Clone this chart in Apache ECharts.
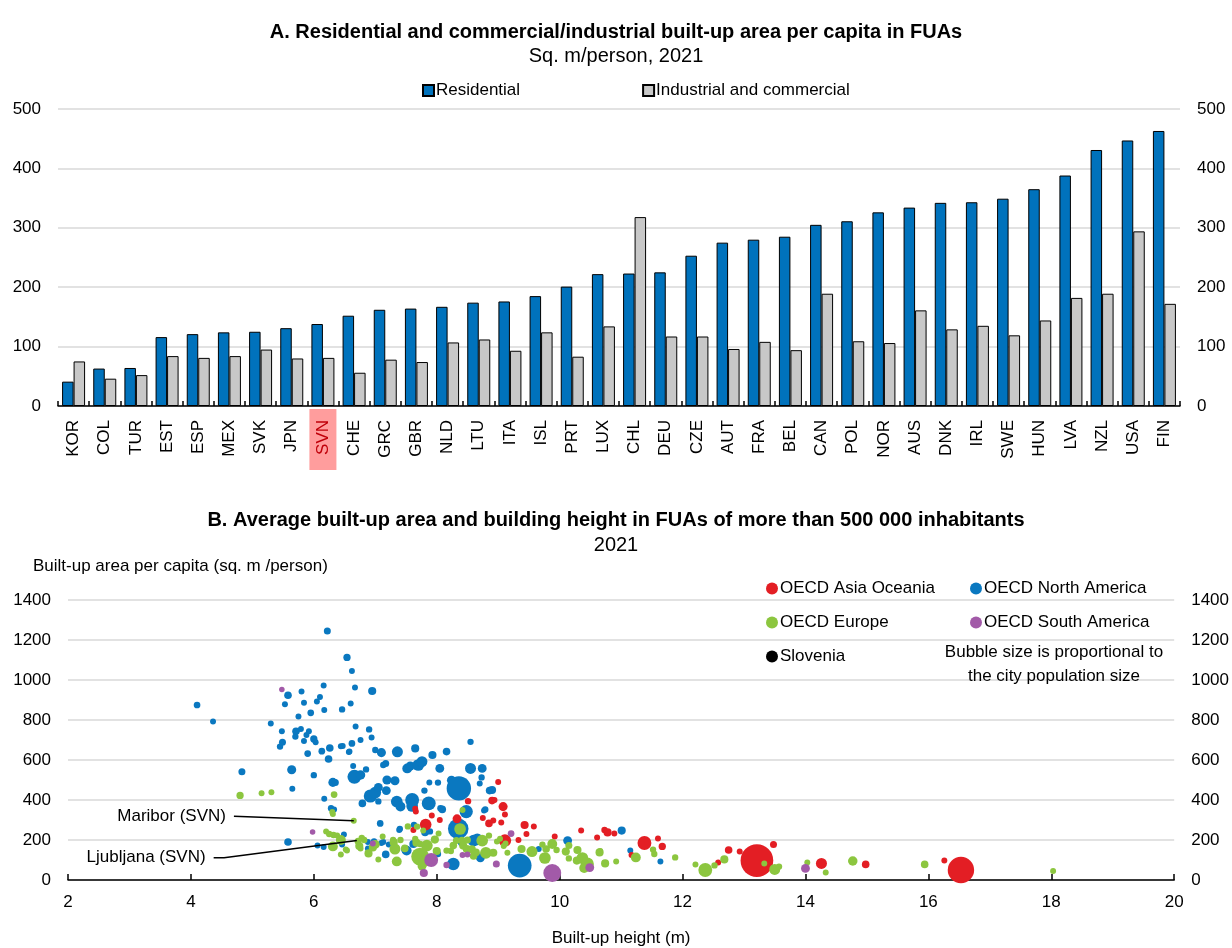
<!DOCTYPE html>
<html><head><meta charset="utf-8">
<script src="https://cdn.jsdelivr.net/npm/echarts@6/dist/echarts.min.js"></script>
<style>html,body{margin:0;padding:0;background:#fff}#c{width:1232px;height:948px}</style>
</head><body><div id="c"></div>
<script>
// ---- Panel A data ----
const categories = ['KOR','COL','TUR','EST','ESP','MEX','SVK','JPN','SVN','CHE','GRC','GBR','NLD','LTU','ITA','ISL','PRT','LUX','CHL','DEU','CZE','AUT','FRA','BEL','CAN','POL','NOR','AUS','DNK','IRL','SWE','HUN','LVA','NZL','USA','FIN'];
const residential = [41,63,64,116,121,124,125,131,138,152,162,164,167,174,176,185,201,222,223,225,253,275,280,285,305,311,326,334,342,343,349,365,388,431,447,463];
const industrial = [75,46,52,84,81,84,95,80,81,56,78,74,107,112,93,124,83,134,318,117,117,96,108,94,189,109,106,161,129,135,119,144,182,189,294,172];

// ---- Panel B data: [height (m), built-up area per capita, population size (millions, approx)] ----
const northAmerica = [
[4.1,875,0.7],[4.36,792,0.5],[4.83,541,0.8],[5.3,783,0.5],[5.45,667,0.6],[5.48,744,0.5],[5.49,689,0.8],
[5.53,879,0.5],[5.58,924,1.0],[5.58,190,1.0],[5.64,551,1.6],[5.65,456,0.5],[5.70,717,0.6],[5.71,744,1.0],
[5.75,818,0.5],[5.80,943,0.5],[5.79,755,0.5],[5.84,886,0.5],[5.84,695,0.5],[5.90,632,0.7],[5.88,725,0.5],
[5.92,744,0.5],[5.95,836,0.7],[6.0,524,0.6],[6.0,705,0.9],[6.03,689,0.5],[6.05,892,0.5],[6.06,173,0.5],
[6.10,915,0.5],[6.13,644,0.7],[6.16,972,0.5],[6.16,165,0.5],[6.17,850,0.5],[6.17,406,0.5],[6.22,1245,0.8],
[6.24,605,1.0],[6.26,660,1.0],[6.28,359,0.6],[6.31,488,1.6],[6.33,353,0.5],[6.35,487,0.8],[6.44,669,0.5],
[6.46,853,0.6],[6.47,670,0.5],[6.46,178,0.5],[6.49,227,0.5],[6.54,1113,0.9],[6.58,642,0.5],[6.62,683,0.7],
[6.57,640,0.5],[6.62,1045,0.5],[6.6,883,0.5],[6.67,962,0.5],[6.68,767,0.5],[6.64,570,0.5],[6.66,516,4.5],
[6.76,700,0.5],[6.76,525,1.8],[6.79,383,1.0],[6.85,553,0.6],[6.9,753,0.6],[6.88,190,0.5],[6.88,158,0.5],
[6.92,420,4],[6.94,712,0.5],[6.95,945,1.2],[7.0,437,3],[6.98,193,0.6],[7.0,650,0.6],[7.05,463,1.5],
[7.05,393,0.6],[7.18,447,1.5],[7.1,637,1.6],[7.08,283,0.7],[7.10,185,0.5],[7.13,190,0.5],[7.19,500,1.6],
[7.17,583,0.8],[7.13,575,0.6],[7.17,128,1.0],[7.22,177,0.5],[7.32,496,1.6],[7.36,641,2.6],[7.35,392,3],
[7.39,250,0.5],[7.40,256,0.6],[7.41,367,2],[7.52,558,2],[7.57,570,1.6],[7.49,153,1.2],[7.51,147,2],
[7.6,400,4.5],[7.6,370,3],[7.62,180,1.2],[7.65,658,1.2],[7.63,276,0.6],[7.70,575,3],[7.76,592,2.5],
[7.8,447,0.6],[7.81,238,1.0],[7.87,383,4.5],[7.88,487,0.5],[7.89,243,0.6],[7.93,625,1.2],[8.02,487,0.6],
[8.02,130,0.6],[8.05,558,1.5],[8.06,359,0.6],[8.09,353,1.0],[8.16,642,1.0],[8.24,499,1.6],[8.27,80,3.5],
[8.36,458,16],[8.35,256,11],[8.41,190,1.5],[8.48,342,4],[8.55,691,0.6],[8.55,558,2.6],[8.60,197,3],
[8.66,203,3],[8.73,513,0.6],[8.71,111,1.5],[8.74,558,1.5],[8.77,347,0.5],[8.79,353,0.6],[8.86,447,1.0],
[8.9,450,1.2],[8.7,483,0.5],[9.35,72,15],[9.66,155,0.5],[10.13,197,1.5],[11.01,247,1.2],[11.15,147,0.5],
[11.64,92,0.5]
];
const asiaOceania = [
[7.62,250,0.5],[7.65,356,0.5],[7.66,343,0.5],[7.82,277,3],[7.92,322,0.5],[8.05,300,0.5],[8.33,306,1.5],
[8.51,394,0.6],[8.75,310,0.5],[8.85,283,1.0],[8.9,397,1.0],[8.92,297,0.5],[9.0,490,0.5],[9.05,288,0.5],
[9.08,367,1.6],[9.11,327,0.5],[8.94,400,0.5],[9.11,197,3.5],[9.33,200,0.5],[9.43,275,1.2],[9.46,230,0.5],
[9.58,268,0.5],[9.92,218,0.5],[10.35,247,0.5],[10.61,213,0.5],[10.73,250,0.6],[10.78,238,1.2],[10.89,233,0.5],
[11.17,125,0.5],[11.38,185,4.5],[11.6,208,0.5],[11.67,168,0.9],[12.58,87,0.5],[12.75,150,1.0],[12.93,142,0.5],
[13.21,97,30],[13.48,177,0.8],[14.26,83,2.6],[14.98,78,1.0],[16.26,97,0.5],[16.53,50,19]
];
const europe = [
[4.80,423,0.9],[5.15,434,0.5],[5.31,439,0.5],[6.2,243,0.5],[6.3,340,0.5],[6.31,330,0.5],[6.33,427,0.7],
[6.25,230,0.6],[6.32,225,0.6],[6.38,222,0.5],[6.44,200,2],[6.31,168,2],[6.44,127,0.5],[6.52,153,0.5],
[6.54,147,0.5],[6.76,158,0.5],[6.78,210,0.6],[6.82,200,0.6],[6.74,170,1.2],[6.89,133,1.2],[6.96,163,1.2],
[7.0,178,1.5],[7.05,102,0.5],[7.12,217,0.5],[7.29,200,0.6],[7.3,188,1.2],[7.32,155,2.6],[7.35,93,2],
[7.41,200,0.6],[7.48,158,1],[7.53,268,0.6],[7.65,205,0.6],[7.67,186,1.2],[7.68,267,0.6],[7.73,180,0.6],
[7.73,117,8],[7.76,70,1.5],[7.78,247,0.5],[7.8,95,3],[7.84,172,3],[7.97,202,1.2],[8.0,145,1.2],
[8.03,233,0.5],[8.16,147,0.6],[8.23,145,0.6],[8.27,172,1],[8.32,197,0.8],[8.38,255,3],[8.42,350,0.5],
[8.41,197,1],[8.43,172,1.2],[8.49,155,1.2],[8.5,200,0.8],[8.57,153,1.2],[8.6,120,1.0],[8.64,138,1.0],
[8.74,197,3],[8.8,136,3],[8.85,222,0.6],[8.92,136,1.2],[8.98,192,0.5],[9.03,206,0.5],[9.09,170,0.5],
[9.12,183,0.5],[9.15,136,0.5],[9.38,155,1.2],[9.55,142,2.6],[9.72,177,0.6],[9.76,110,3],[9.78,155,1],
[9.88,180,2],[9.95,150,0.6],[10.1,142,1.2],[10.15,172,0.8],[10.15,108,0.6],[10.28,97,1.2],[10.29,150,1.2],
[10.37,110,3],[10.45,80,4],[10.4,60,2],[10.65,138,1.2],[10.66,145,0.5],[10.74,83,1.2],[10.92,92,0.5],
[11.24,113,2],[11.52,152,0.6],[11.54,130,0.6],[11.88,113,0.6],[12.21,77,0.5],[12.37,50,4.5],[12.52,73,0.6],
[12.68,103,1.2],[13.33,83,0.5],[13.5,53,2.6],[13.57,67,0.6],[14.03,87,0.5],[14.33,37,0.5],[14.77,95,1.8],
[15.94,78,1.0],[18.03,45,0.5]
];
const southAmerica = [
[5.48,953,0.4],[5.98,240,0.4],[6.96,183,0.5],[7.79,35,1.2],[7.91,100,4.5],[8.16,75,0.6],[8.42,125,0.5],
[8.5,128,0.5],[8.97,80,0.8],[9.21,232,0.7],[9.88,35,8],[10.49,62,1.5],[14.0,58,1.5]
];
const slovenia = [[6.65,296,0.5],[6.72,194,0.8]];
const sloveniaNames = ['Maribor (SVN)','Ljubljana (SVN)'];
const barTicks = [0,100,200,300,400,500];
const bubbleTicksY = [0,200,400,600,800,1000,1200,1400];
const bubbleTicksX = [2,4,6,8,10,12,14,16,18,20];

const FONT = "'Liberation Sans', Arial, sans-serif";
const BLUE = '#0072bc', GREY = '#c8c8c8';
const C_ASIA = '#e31e24', C_NA = '#0a78c0', C_EU = '#8cc63f', C_SA = '#a25aa8';
const GRIDC = '#d9d9d9';
const fs = 17, tfs = 20;
const sizeFn = d => 2 + 5.6 * Math.sqrt(d[2]);

const chart = echarts.init(document.getElementById('c'), null, {renderer:'canvas'});

const yAxisCommon = (gridIndex, min, max, interval, pos, grid) => ({
  type:'value', gridIndex, min, max, interval, position: pos,
  axisLine:{show:false}, axisTick:{show:false},
  splitLine:{show: grid, lineStyle:{color:GRIDC, width:1.5}},
  axisLabel:{color:'#000', fontSize:fs, fontFamily:FONT, margin: 17, formatter: v => String(v)}
});

const option = {
  animation:false,
  textStyle:{fontFamily:FONT},
  title:[
    {text:'A. Residential and commercial/industrial built-up area per capita in FUAs', left:'center', top:17,
     textStyle:{fontSize:tfs, fontWeight:'bold', color:'#000', fontFamily:FONT}},
    {text:'Sq. m/person, 2021', left:'center', top:41, textStyle:{fontSize:tfs, fontWeight:'normal', color:'#000', fontFamily:FONT}},
    {text:'B. Average built-up area and building height in FUAs of more than 500 000 inhabitants', left:'center', top:505,
     textStyle:{fontSize:tfs, fontWeight:'bold', color:'#000', fontFamily:FONT}},
    {text:'2021', left:'center', top:530, textStyle:{fontSize:tfs, fontWeight:'normal', color:'#000', fontFamily:FONT}}
  ],
  legend:[
    {data:['Residential','Industrial and commercial'], left:417, top:77, itemWidth:11, itemHeight:11, itemGap:122,
     textStyle:{fontSize:fs, color:'#000', fontFamily:FONT, padding:[0,0,0,-3]}, icon:'rect'},
    {data:['OECD Asia Oceania','OECD Europe',{name:'Slovenia', itemStyle:{color:'#000'}}], left:761, top:575, orient:'vertical',
     itemWidth:12, itemHeight:12, itemGap:17, icon:'circle', textStyle:{fontSize:fs, color:'#000', fontFamily:FONT, padding:[0,0,0,-3]}},
    {data:['OECD North America','OECD South America'], left:965, top:575, orient:'vertical',
     itemWidth:12, itemHeight:12, itemGap:17, icon:'circle', textStyle:{fontSize:fs, color:'#000', fontFamily:FONT, padding:[0,0,0,-3]}}
  ],
  grid:[
    {left:58, right:52, top:109, bottom:542},
    {left:68, right:57, top:600, bottom:68}
  ],
  xAxis:[
    {type:'category', gridIndex:0, data:categories,
     axisLine:{lineStyle:{color:'#000', width:1.5}},
     axisTick:{show:true, inside:true, length:5, lineStyle:{color:'#000', width:1.5}},
     axisLabel:{interval:0, rotate:90, margin:3, color:'#000', fontSize:fs, fontFamily:FONT,
       formatter: v => v === 'SVN' ? '{s|' + v + '}' : '{n|' + v + '}',
       rich:{
         n:{fontSize:fs, color:'#000', fontFamily:FONT, padding:[0,11,0,0]},
         s:{fontSize:fs, color:'#c0000a', fontFamily:FONT, backgroundColor:'#ff9d9d', padding:[5,11,5,15]}
       }},
     splitLine:{show:false}},
    {type:'value', gridIndex:1, min:bubbleTicksX[0], max:bubbleTicksX[bubbleTicksX.length-1], interval:2,
     axisLine:{lineStyle:{color:'#000', width:1.5}},
     axisTick:{show:true, inside:true, length:6, lineStyle:{color:'#000', width:1.5}},
     axisLabel:{color:'#000', fontSize:fs, fontFamily:FONT, margin:14},
     splitLine:{show:false},
     name:'Built-up height (m)', nameLocation:'middle', nameGap:50,
     nameTextStyle:{color:'#000', fontSize:fs, fontFamily:FONT}}
  ],
  yAxis:[
    yAxisCommon(0, barTicks[0], barTicks[barTicks.length-1], 100, 'left', true),
    yAxisCommon(0, barTicks[0], barTicks[barTicks.length-1], 100, 'right', false),
    yAxisCommon(1, bubbleTicksY[0], bubbleTicksY[bubbleTicksY.length-1], 200, 'left', true),
    yAxisCommon(1, bubbleTicksY[0], bubbleTicksY[bubbleTicksY.length-1], 200, 'right', false)
  ],
  series:[
    {name:'Residential', type:'bar', xAxisIndex:0, yAxisIndex:0, data:residential, barWidth:11.5, barGap:'0%',
     itemStyle:{color:BLUE, borderColor:'#000', borderWidth:1}},
    {name:'Industrial and commercial', type:'bar', xAxisIndex:0, yAxisIndex:0, data:industrial, barWidth:11.5, barGap:'0%',
     itemStyle:{color:GREY, borderColor:'#000', borderWidth:1}},
    {name:'OECD North America', type:'scatter', xAxisIndex:1, yAxisIndex:2, data:northAmerica, symbolSize:sizeFn,
     itemStyle:{color:C_NA, opacity:1}},
    {name:'OECD Asia Oceania', type:'scatter', xAxisIndex:1, yAxisIndex:2, data:asiaOceania, symbolSize:sizeFn,
     itemStyle:{color:C_ASIA, opacity:1}},
    {name:'OECD Europe', type:'scatter', xAxisIndex:1, yAxisIndex:2, data:europe, symbolSize:sizeFn,
     itemStyle:{color:C_EU, opacity:1}},
    {name:'OECD South America', type:'scatter', xAxisIndex:1, yAxisIndex:2, data:southAmerica, symbolSize:sizeFn,
     itemStyle:{color:C_SA, opacity:1}},
    {name:'Slovenia', type:'scatter', xAxisIndex:1, yAxisIndex:2, data:slovenia, symbolSize:sizeFn,
     itemStyle:{color:C_EU, opacity:1}}
  ]
};
chart.setOption(option);

// annotations (leader lines from label to the Slovenian cities), positioned via the axes
const px = p => chart.convertToPixel({xAxisIndex:1, yAxisIndex:2}, p);
const mStart = px([4.70, 319]), mEnd = px(slovenia[0]);
const lStart = px([4.37, 111]), lBend = px([4.54, 111]), lEnd = px([slovenia[1][0] - 0.02, slovenia[1][1] + 4]);
chart.setOption({
  graphic:[
    {type:'polyline', shape:{points:[mStart, mEnd]}, style:{stroke:'#000', lineWidth:1.5, fill:null}, z:10},
    {type:'polyline', shape:{points:[lStart, lBend, lEnd]}, style:{stroke:'#000', lineWidth:1.5, fill:null}, z:10},
    {type:'text', x:mStart[0]-8, y:mStart[1], style:{text:sloveniaNames[0], fontSize:fs, fontFamily:FONT, fill:'#000', align:'right', verticalAlign:'middle'}, z:10},
    {type:'text', x:lStart[0]-8, y:lStart[1], style:{text:sloveniaNames[1], fontSize:fs, fontFamily:FONT, fill:'#000', align:'right', verticalAlign:'middle'}, z:10},
    {type:'text', x:33, y:558, style:{text:'Built-up area per capita (sq. m /person)', fontSize:fs, fontFamily:FONT, fill:'#000'}},
    {type:'text', x:1054, y:640, style:{text:'Bubble size is proportional to\nthe city population size', fontSize:fs, lineHeight:24, fontFamily:FONT, fill:'#000', align:'center'}}
  ]
});
</script></body></html>
